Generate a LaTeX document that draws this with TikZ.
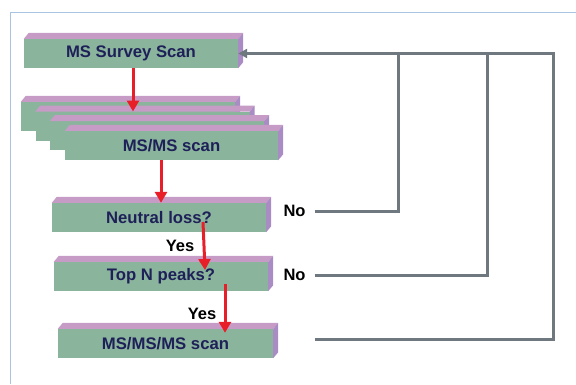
\documentclass[tikz,border=0pt]{standalone}
\usepackage{fontspec}
\setmainfont{Liberation Sans}
\usetikzlibrary{arrows.meta}
\definecolor{facegreen}{RGB}{139,180,157}
\definecolor{toppurple}{RGB}{198,156,198}
\definecolor{sidepurple}{RGB}{170,140,196}
\definecolor{navytext}{RGB}{30,32,88}
\definecolor{flowred}{RGB}{232,30,40}
\definecolor{loopgray}{RGB}{110,120,126}
\definecolor{framec}{RGB}{168,196,226}
\tikzset{
  bar/.style={fill=facegreen, draw=none, minimum width=214pt, minimum height=29pt, inner sep=0pt,
    text=navytext, font=\fontsize{16.7}{19}\selectfont\bfseries},
  lbl/.style={font=\fontsize{16.5}{19}\selectfont\bfseries, text=black, inner sep=1pt},
  redarrow/.style={draw=flowred, line width=3pt, -{Triangle[width=12pt,length=11pt]}},
  grayline/.style={draw=loopgray, line width=3pt},
}
\newcommand\prismbox[5]{%
  \node[bar, minimum width=#4] (#1) at (#2,#3) {#5};
  \fill[toppurple] (#1.north west) -- ++(5,-6) -- ([shift={(5,-6)}]#1.north east) -- (#1.north east) -- cycle;
  \fill[sidepurple] (#1.north east) -- ++(5,-6) -- ([shift={(5,-6)}]#1.south east) -- (#1.south east) -- cycle;
}
\begin{document}
\begin{tikzpicture}[x=1pt,y=-1pt]
\useasboundingbox (0,0) rectangle (576,384);
\draw[framec, line width=0.8pt] (10,384) -- (10,12) -- (576,12);
\prismbox{survey}{131}{53.5}{214pt}{MS Survey Scan}
\prismbox{msa}{128}{116.5}{214pt}{}
\prismbox{msb}{142.5}{126.2}{214pt}{}
\prismbox{msc}{157}{135.9}{214pt}{}
\prismbox{msd}{171.5}{145.6}{213pt}{MS/MS scan}
\prismbox{neutral}{159}{217.5}{214pt}{Neutral loss?}
\prismbox{topn}{161}{276.5}{214pt}{Top N peaks?}
\prismbox{msms}{165.5}{343.5}{215pt}{MS/MS/MS scan}
% labels
\node[lbl] (yes1) at (180,246) {Yes};
\node[lbl] (yes2) at (202,314) {Yes};
\node[lbl] (no1) at (294.5,211) {No};
\node[lbl] (no2) at (294.5,275) {No};
% red flow arrows
\draw[redarrow] ([xshift=2pt]survey.south) -- ([xshift=2pt]survey.south |- msb.north);
\draw[redarrow] ([xshift=-10.5pt]msd.south) -- ([xshift=-10.5pt]msd.south |- neutral.north);
\coordinate (r3s) at ([shift={(44,4.5)}]neutral.center);
\coordinate (r3e) at ([shift={(44,-6.5)}]topn.center);
\draw[redarrow] (r3s) -- (r3e);
\coordinate (r4s) at ([shift={(64,7.5)}]topn.center);
\coordinate (r4e) at ([shift={(59.5,4)}]msms.north);
\draw[redarrow] (r4s) -- (r4e);
% gray loop-back lines
\coordinate (j1) at (398,53.5);
\coordinate (j2) at (487,53.5);
\coordinate (j3) at (553,53.5);
\coordinate (s3) at (315,339);
\draw[grayline] ([xshift=8pt]no1.east) -| (j1);
\draw[grayline] ([xshift=8pt]no2.east) -| (j2);
\draw[grayline, -{Triangle[width=9pt,length=9pt]}] (s3) -| (j3) -- (survey.east);
\end{tikzpicture}
\end{document}
